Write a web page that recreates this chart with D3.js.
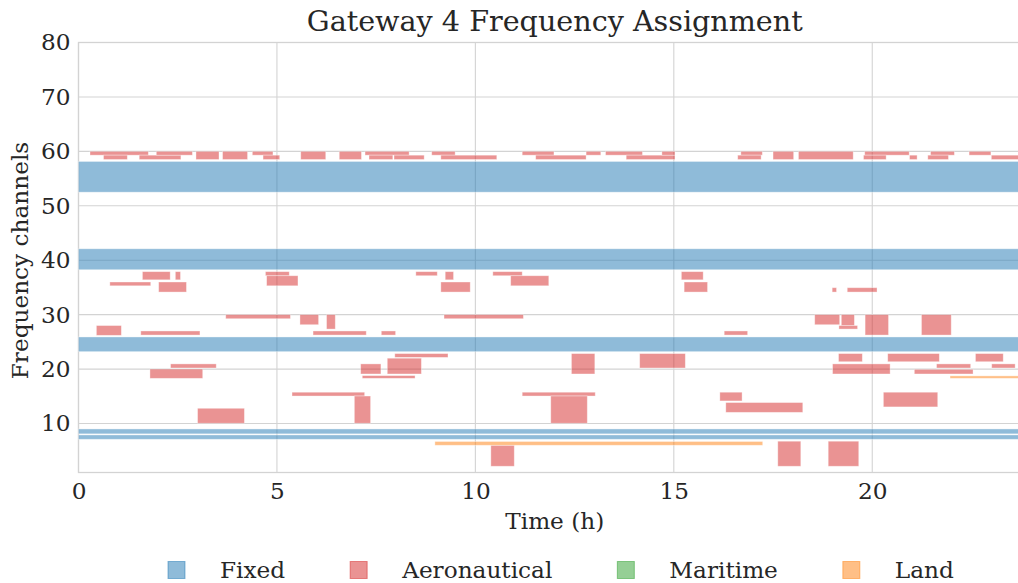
<!DOCTYPE html>
<html>
<head>
<meta charset="utf-8">
<script src="https://cdn.jsdelivr.net/npm/d3@7"></script>
<style>
  body { margin: 0; background: #ffffff; }
  svg { display: block; font-family: "DejaVu Serif", "Liberation Serif", serif; }
</style>
</head>
<body>
<svg id="chart" width="1018" height="583"></svg>
<script>
// Service categories shown in the legend, in order
const categories = ["Fixed", "Aeronautical", "Maritime", "Land"];
const categoryColors = ["#1f77b4", "#d62728", "#2ca02c", "#ff7f0e"];

// Each slot: [start hour, end hour, lower channel, upper channel]
const fixedSlots = [
  [0, 24, 52.5, 58.15],
  [0, 24, 38.25, 42.1],
  [0, 24, 23.2, 25.9],
  [0, 24, 8.1, 9.0],
  [0, 24, 7.1, 7.9]
];

const aeronauticalSlots = [
  // channels 58-60 band
  [0.29, 1.76, 59.3, 60.0], [0.63, 1.23, 58.5, 59.3], [1.53, 2.58, 58.5, 59.3],
  [1.96, 2.87, 59.3, 60.0], [2.96, 3.54, 58.5, 60.0], [3.63, 4.26, 58.5, 60.0],
  [4.38, 4.90, 59.3, 60.0], [4.65, 5.07, 58.5, 59.3], [5.60, 6.23, 58.5, 60.0],
  [6.57, 7.13, 58.5, 60.0], [7.22, 8.33, 59.3, 60.0], [7.32, 7.92, 58.5, 59.3],
  [7.95, 8.71, 58.5, 59.3], [8.90, 9.49, 59.3, 60.0], [9.13, 10.54, 58.5, 59.3],
  [11.18, 11.98, 59.3, 60.0], [11.52, 12.79, 58.5, 59.3], [12.79, 13.16, 59.3, 60.0],
  [13.28, 14.21, 59.3, 60.0], [13.80, 15.03, 58.5, 59.3], [14.70, 15.03, 59.3, 60.0],
  [16.69, 17.23, 59.3, 60.0], [16.61, 17.20, 58.5, 59.3], [17.50, 18.02, 58.5, 60.0],
  [18.14, 19.52, 58.5, 60.0], [19.81, 20.93, 59.3, 60.0], [19.78, 20.35, 58.5, 59.3],
  [20.94, 21.13, 58.5, 59.3], [21.47, 22.07, 59.3, 60.0], [21.40, 21.92, 58.5, 59.3],
  [22.44, 22.99, 59.3, 60.0], [23.00, 24.00, 58.5, 59.3],
  // channels 34-38
  [1.61, 2.31, 36.4, 37.9], [2.44, 2.57, 36.4, 37.9], [0.79, 1.82, 35.3, 36.0],
  [2.02, 2.72, 34.15, 36.0], [4.71, 5.31, 37.15, 37.9], [4.74, 5.53, 35.3, 37.15],
  [8.50, 9.04, 37.15, 37.9], [9.24, 9.45, 36.4, 37.9], [9.13, 9.87, 34.15, 36.0],
  [10.44, 11.18, 37.15, 37.9], [10.89, 11.85, 35.3, 37.15], [15.19, 15.74, 36.4, 37.9],
  [15.26, 15.85, 34.15, 36.0], [18.99, 19.10, 34.15, 34.95], [19.37, 20.12, 34.15, 34.95],
  // channels 26-30
  [3.71, 5.34, 29.25, 30.0], [5.58, 6.05, 28.15, 30.0], [6.25, 6.47, 27.35, 30.0],
  [0.45, 1.08, 26.2, 28.0], [1.57, 3.06, 26.25, 27.0], [5.91, 7.25, 26.25, 27.0],
  [7.63, 7.99, 26.25, 27.0], [9.21, 11.21, 29.25, 30.0], [18.55, 19.18, 28.15, 30.0],
  [19.22, 19.55, 28.0, 30.0], [19.16, 19.63, 27.35, 28.0], [19.82, 20.41, 26.25, 30.0],
  [21.24, 21.99, 26.25, 30.0], [16.27, 16.86, 26.25, 27.0],
  // channels 18-23
  [7.97, 9.31, 22.15, 22.85], [7.78, 8.64, 19.1, 22.0], [7.11, 7.62, 19.1, 20.95],
  [7.15, 8.48, 18.3, 18.8], [2.32, 3.47, 20.2, 20.95], [1.80, 3.13, 18.3, 20.0],
  [12.42, 13.01, 19.1, 22.85], [14.14, 15.29, 20.2, 22.85], [19.15, 19.75, 21.35, 22.85],
  [19.00, 20.45, 19.1, 20.95], [20.39, 21.69, 21.35, 22.85], [21.62, 22.48, 20.2, 20.95],
  [21.06, 22.54, 19.1, 19.95], [22.60, 23.30, 21.35, 22.85], [23.01, 23.60, 20.2, 20.95],
  // channels 10-16
  [5.38, 7.21, 15.05, 15.75], [6.95, 7.36, 10.05, 15.05], [3.00, 4.18, 10.05, 12.8],
  [11.18, 13.02, 15.05, 15.75], [11.90, 12.82, 10.05, 15.05], [16.16, 16.72, 14.15, 15.75],
  [16.31, 18.25, 12.05, 13.85], [20.28, 21.65, 13.05, 15.75],
  // channels 2-7
  [10.39, 10.98, 2.15, 6.0], [17.62, 18.20, 2.15, 6.75], [18.89, 19.66, 2.15, 6.75]
];

const maritimeSlots = [];

const landSlots = [
  [8.98, 17.24, 6.0, 6.7],
  [21.96, 24.0, 18.3, 18.75]
];

const xTicks = [0, 5, 10, 15, 20];
const yTicks = [10, 20, 30, 40, 50, 60, 70, 80];

const chartTitle = "Gateway 4 Frequency Assignment";
const xLabel = "Time (h)";
const yLabel = "Frequency channels";

// ---- layout ----
const svg = d3.select("#chart");
const W = 1018, H = 583;
const plotLeft = 78.5, plotRight = 1031, plotTop = 42.5, plotBottom = 472.5;
const textColor = "#262626";
const gridColor = "#d3d3d3";
const labelSize = 23.2;

const x = d3.scaleLinear().domain([0, 24]).range([plotLeft, plotRight]);
const y = d3.scaleLinear().domain([1, 80]).range([plotBottom, plotTop]);

svg.append("rect").attr("width", W).attr("height", H).attr("fill", "#ffffff");

// grid
const grid = svg.append("g");
grid.selectAll("line.gx").data(xTicks).join("line")
  .attr("x1", d => x(d)).attr("x2", d => x(d))
  .attr("y1", plotTop).attr("y2", plotBottom)
  .attr("stroke", gridColor).attr("stroke-width", 1.1);
grid.selectAll("line.gy").data(yTicks).join("line")
  .attr("x1", plotLeft).attr("x2", plotRight)
  .attr("y1", d => y(d)).attr("y2", d => y(d))
  .attr("stroke", gridColor).attr("stroke-width", 1.1);

// spines
svg.append("rect")
  .attr("x", plotLeft).attr("y", plotTop)
  .attr("width", plotRight - plotLeft).attr("height", plotBottom - plotTop)
  .attr("fill", "none").attr("stroke", gridColor).attr("stroke-width", 1.3);

// slots
const layers = [
  { data: fixedSlots, color: categoryColors[0] },
  { data: aeronauticalSlots, color: categoryColors[1] },
  { data: maritimeSlots, color: categoryColors[2] },
  { data: landSlots, color: categoryColors[3] }
];
const plot = svg.append("g");
layers.forEach(layer => {
  plot.append("g").selectAll("rect").data(layer.data).join("rect")
    .attr("x", d => x(d[0]))
    .attr("width", d => x(d[1]) - x(d[0]))
    .attr("y", d => y(d[3]))
    .attr("height", d => y(d[2]) - y(d[3]))
    .attr("fill", layer.color)
    .attr("fill-opacity", 0.5)
    .attr("stroke", "#ffffff")
    .attr("stroke-opacity", 0.45)
    .attr("stroke-width", 0.8);
});

// axes
const xAxis = d3.axisBottom(x).tickValues(xTicks).tickSize(0).tickPadding(10).tickFormat(d3.format("d"));
const gx = svg.append("g").attr("transform", `translate(0,${plotBottom})`).call(xAxis);
gx.select(".domain").remove();
gx.selectAll("text").attr("fill", textColor).attr("font-size", labelSize)
  .attr("font-family", "DejaVu Serif, serif").attr("dy", "0.71em");

const yAxis = d3.axisLeft(y).tickValues(yTicks).tickSize(0).tickPadding(8).tickFormat(d3.format("d"));
const gy = svg.append("g").attr("transform", `translate(${plotLeft},0)`).call(yAxis);
gy.select(".domain").remove();
gy.selectAll("text").attr("fill", textColor).attr("font-size", labelSize)
  .attr("font-family", "DejaVu Serif, serif");

// titles
svg.append("text").attr("x", (plotLeft + plotRight) / 2).attr("y", 31)
  .attr("text-anchor", "middle").attr("fill", textColor)
  .attr("font-size", 28.6).text(chartTitle);
svg.append("text").attr("x", (plotLeft + plotRight) / 2).attr("y", 529)
  .attr("text-anchor", "middle").attr("fill", textColor)
  .attr("font-size", labelSize).text(xLabel);
svg.append("text")
  .attr("transform", `translate(28,${(plotTop + plotBottom) / 2 + 3}) rotate(-90)`)
  .attr("text-anchor", "middle").attr("fill", textColor)
  .attr("font-size", labelSize).text(yLabel);

// legend
const legend = svg.append("g");
const sq = 17, textGap = 52 - sq, colGap = 65;
const items = legend.selectAll("g").data(categories).join("g");
items.append("rect").attr("width", sq).attr("height", sq).attr("y", -sq / 2)
  .attr("fill", (d, i) => categoryColors[i]).attr("fill-opacity", 0.5)
  .attr("stroke", (d, i) => categoryColors[i]).attr("stroke-opacity", 0.5).attr("stroke-width", 1);
items.append("text").attr("x", sq + textGap).attr("dy", "0.34em")
  .attr("fill", textColor).attr("font-size", labelSize).text(d => d);
let cursor = 0;
const offsets = [];
items.each(function () {
  const w = sq + textGap + this.querySelector("text").getComputedTextLength();
  offsets.push(cursor);
  cursor += w + colGap;
});
const legendStart = 168;
items.attr("transform", (d, i) => `translate(${legendStart + offsets[i]},570)`);
</script>
</body>
</html>
